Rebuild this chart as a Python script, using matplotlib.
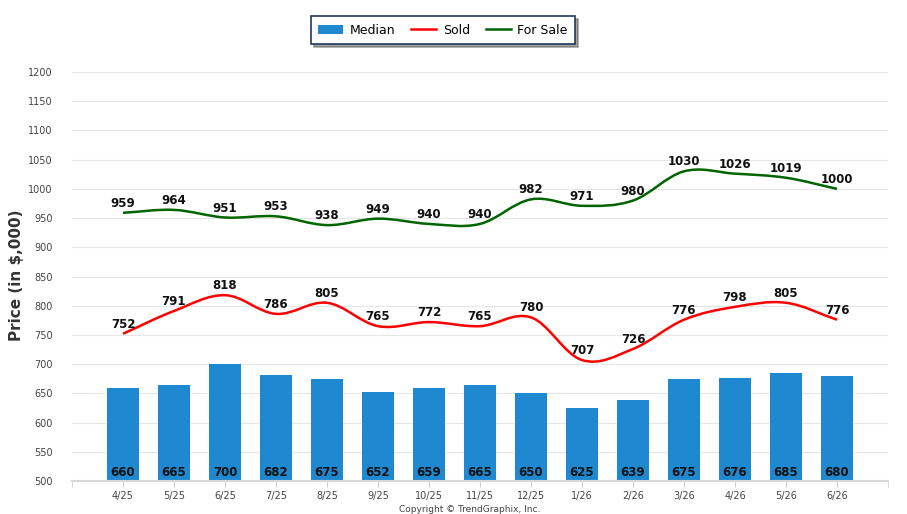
import numpy as np
import matplotlib.pyplot as plt
from matplotlib.path import Path
from matplotlib.patches import PathPatch, Patch
from matplotlib.lines import Line2D

months = ["4/25", "5/25", "6/25", "7/25", "8/25", "9/25", "10/25", "11/25",
          "12/25", "1/26", "2/26", "3/26", "4/26", "5/26", "6/26"]
median = [660, 665, 700, 682, 675, 652, 659, 665, 650, 625, 639, 675, 676, 685, 680]
sold = [752, 791, 818, 786, 805, 765, 772, 765, 780, 707, 726, 776, 798, 805, 776]
for_sale = [959, 964, 951, 953, 938, 949, 940, 940, 982, 971, 980, 1030, 1026, 1019, 1000]

BAR_C = "#1e88d0"
SOLD_C = "#ff0000"
SALE_C = "#006400"


def smooth_path(xs, ys, t=0.35):
    """Cubic bezier path through the points (catmull-rom style tangents)."""
    xs = np.asarray(xs, float)
    ys = np.asarray(ys, float)
    n = len(xs)
    verts = [(xs[0], ys[0])]
    codes = [Path.MOVETO]
    for i in range(n - 1):
        p0 = max(i - 1, 0)
        p3 = min(i + 2, n - 1)
        d1 = (ys[i + 1] - ys[p0]) / (xs[i + 1] - xs[p0])
        d2 = (ys[p3] - ys[i]) / (xs[p3] - xs[i])
        h = (xs[i + 1] - xs[i]) * t
        verts += [(xs[i] + h, ys[i] + d1 * h),
                  (xs[i + 1] - h, ys[i + 1] - d2 * h),
                  (xs[i + 1], ys[i + 1])]
        codes += [Path.CURVE4] * 3
    return Path(verts, codes)


fig = plt.figure(figsize=(9.07, 5.14), dpi=100)
ax = fig.add_axes([72 / 907, 33 / 514, 816 / 907, 409 / 514])

x = np.arange(len(months))
ax.bar(x, median, width=0.63, bottom=0, color=BAR_C, zorder=2)
for xi, v in zip(x, median):
    ax.text(xi, 503, str(v), ha="center", va="bottom", fontsize=8.5,
            fontweight="bold", color="#111111", zorder=5)

for vals, col in [(sold, SOLD_C), (for_sale, SALE_C)]:
    ax.add_patch(PathPatch(smooth_path(x, vals), fill=False, edgecolor=col,
                           lw=1.8, zorder=3))
    for xi, v in zip(x, vals):
        ax.text(xi, v + 5, str(v), ha="center", va="bottom", fontsize=8.5,
                fontweight="bold", color="#111111", zorder=5)

ax.set_xlim(-1, 15)
ax.set_ylim(500, 1200)
ax.set_yticks(range(500, 1201, 50))
ax.set_xticks(x)
ax.set_xticklabels(months)
ax.set_xticks([-1, 15], minor=True)
ax.grid(axis="y", color="#e6e6e6", lw=0.8, zorder=0)
ax.tick_params(axis="y", length=0, labelsize=7, labelcolor="#444444", pad=14)
ax.tick_params(axis="x", which="both", length=4, color="#d0d0d0",
               labelsize=7, labelcolor="#444444", pad=3)
for s in ["top", "right", "left"]:
    ax.spines[s].set_visible(False)
ax.spines["bottom"].set_color("#d8d8d8")
ax.spines["bottom"].set_linewidth(1.5)

fig.text(17 / 907, 1 - 275 / 514, "Price (in $,000)", rotation=90, ha="center",
         va="center", fontsize=11, fontweight="bold", color="#333333")
fig.text(470 / 907, 1 - 509 / 514, "Copyright \u00a9 TrendGraphix, Inc.",
         ha="center", va="center", fontsize=6.5, color="#444444")

handles = [Patch(facecolor=BAR_C, edgecolor="none"),
           Line2D([], [], color=SOLD_C, lw=1.8),
           Line2D([], [], color=SALE_C, lw=1.8)]
leg = fig.legend(handles, ["Median", "Sold", "For Sale"], loc="center",
                 bbox_to_anchor=(443 / 907, 1 - 30 / 514), ncol=3, frameon=True,
                 fancybox=False, shadow=True, fontsize=9, handlelength=2.0,
                 columnspacing=1.3, handletextpad=0.5, borderpad=0.6)
leg.get_frame().set_edgecolor("#1f3a5f")
leg.get_frame().set_linewidth(1.2)

fig.savefig("out.png", dpi=100)
